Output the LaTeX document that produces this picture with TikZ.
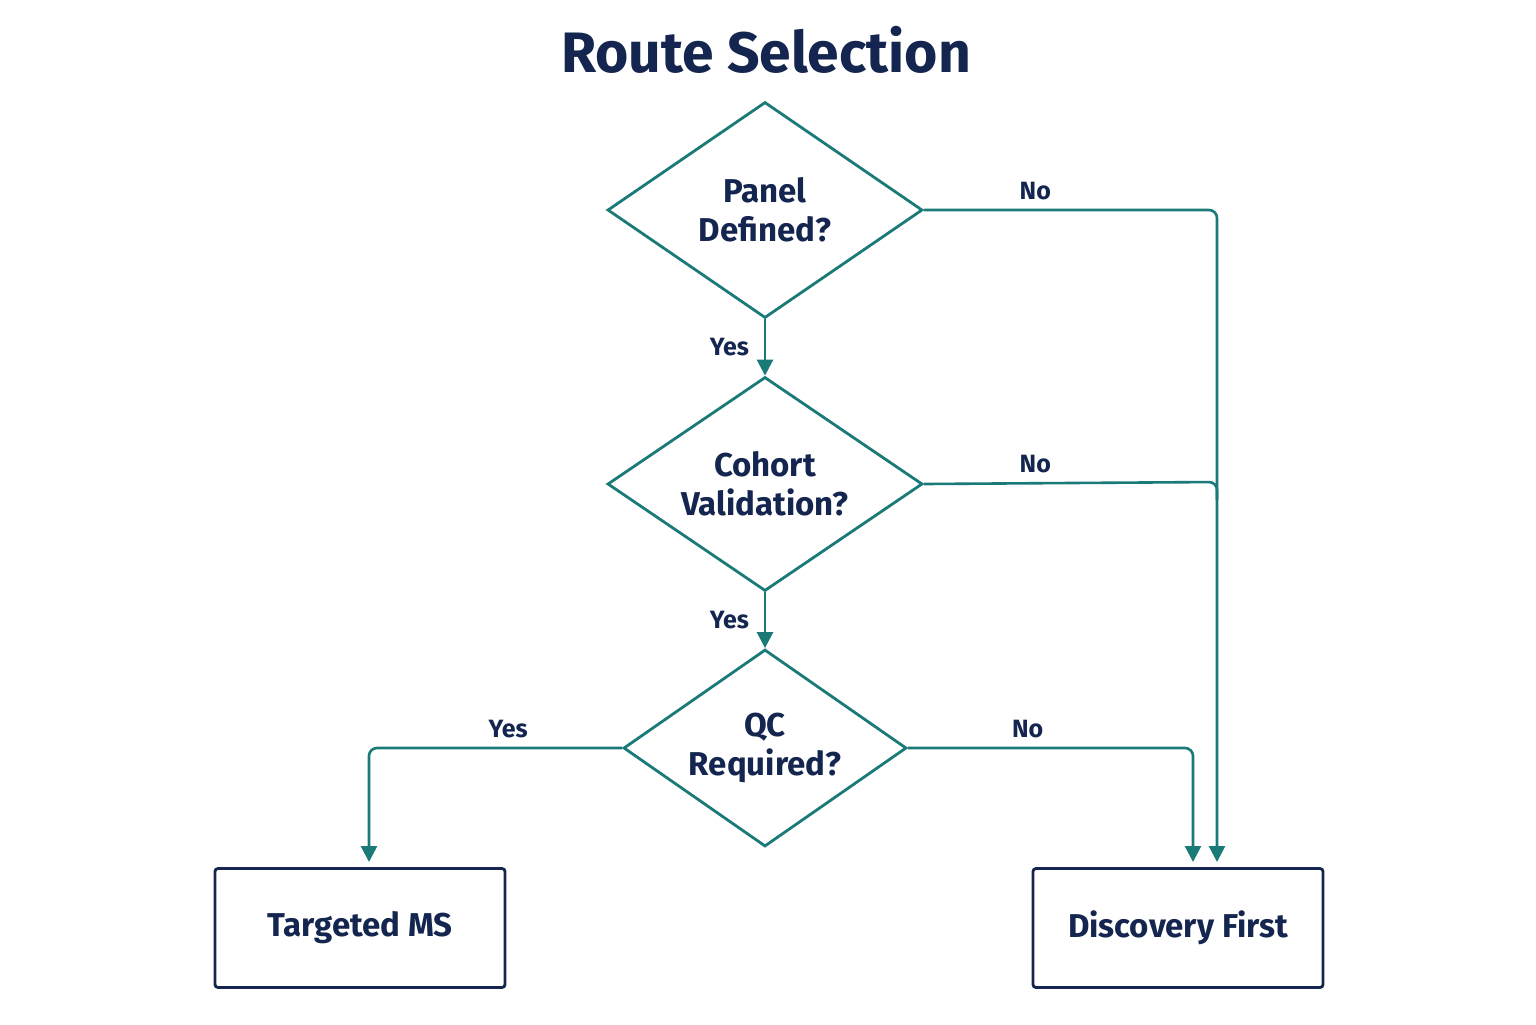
\documentclass[tikz,border=0pt]{standalone}
\usepackage{fontspec}
\setmainfont{Fira Sans}
\usetikzlibrary{shapes.geometric,arrows.meta}
\definecolor{teal1}{HTML}{1A7A78}
\definecolor{navy}{HTML}{14254F}
\begin{document}
\begin{tikzpicture}[x=0.5pt,y=-0.5pt,
  dec/.style={diamond,aspect=1.6,draw=teal1,line width=1.4pt,inner sep=0pt,text=navy,font=\fontsize{16.5}{19.5}\selectfont\bfseries,align=center},
  endbox/.style={draw=navy,line width=1.4pt,rounded corners=1.5pt,minimum width=145pt,minimum height=59.5pt,text=navy,font=\fontsize{16.5}{19}\selectfont\bfseries},
  conn/.style={draw=teal1,line width=1.3pt,rounded corners=4pt},
  arr/.style={conn,-{Triangle[length=8pt,width=8pt]}},
  lbl/.style={text=navy,font=\fontsize{12.5}{14}\selectfont\bfseries}]
\useasboundingbox[fill=white] (0,0) rectangle (1536,1024);
\node[text=navy,font=\fontsize{28.5}{32}\selectfont\bfseries] (title) at (766,50) {Route Selection};
\node[dec,minimum width=157.5pt,minimum height=108pt] (d1) at (765,210) {Panel\\Defined?};
\node[dec,minimum width=157.5pt,minimum height=107pt] (d2) at (765,484) {Cohort\\Validation?};
\node[dec,minimum width=141.5pt,minimum height=98.5pt] (d3) at (765,748) {QC\\Required?};
\node[endbox] (t) at (360,928) {Targeted MS};
\node[endbox] (df) at (1178,928) {Discovery First};
\coordinate (j2) at (1217,482);
\draw[arr] (d1.south) -- (d2.north) node[lbl,midway,left=4pt] {Yes};
\draw[arr] (d2.south) -- (d3.north) node[lbl,midway,left=4pt] {Yes};
\draw[arr] (d1.east) -- node[lbl,above=1pt,pos=0.38] {No} (1217,210) -- (1217,862);
\draw[conn] (d2.east) -- node[lbl,above=1pt,pos=0.38] {No} (j2) -- (1217,500);
\draw[arr] (d3.east) -- node[lbl,above=1pt,pos=0.42] {No} (1193,748) -- (1193,862);
\draw[arr] (d3.west) -- node[lbl,above=1pt,pos=0.45] {Yes} (369,748) -- (369,862);
\end{tikzpicture}
\end{document}
